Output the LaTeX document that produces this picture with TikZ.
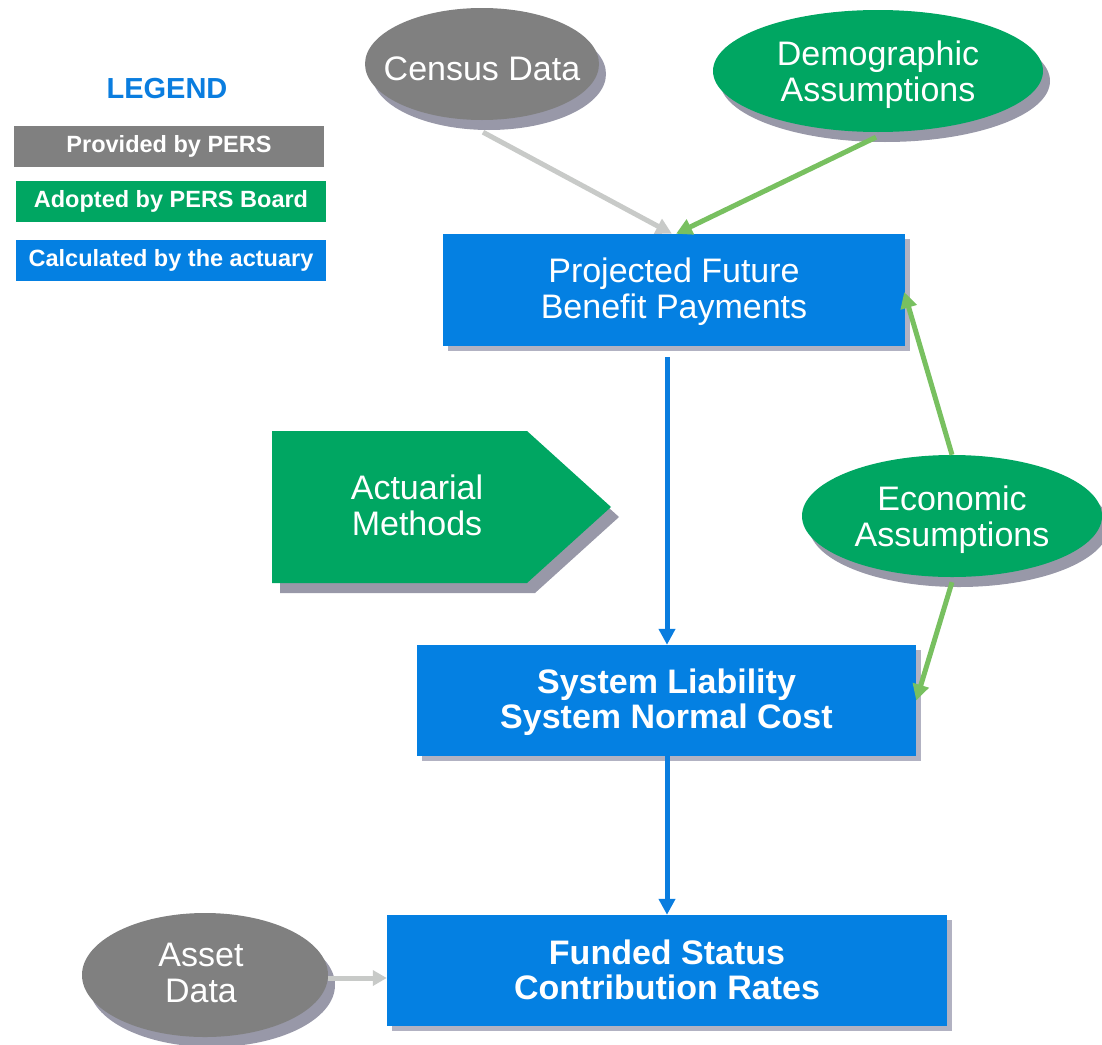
\documentclass[tikz,border=0pt]{standalone}
\usepackage{fontspec}
\setmainfont{Liberation Sans}
\usetikzlibrary{shapes.geometric,shadows,arrows.meta,calc}

\definecolor{pblue}{RGB}{4,128,226}
\definecolor{pgreen}{RGB}{0,166,98}
\definecolor{pgray}{RGB}{128,128,128}
\definecolor{boxshade}{RGB}{178,178,194}
\definecolor{ovalshade}{RGB}{152,152,168}
\definecolor{lgray}{RGB}{200,202,200}
\definecolor{lgreen}{RGB}{120,192,96}
\definecolor{lblue}{RGB}{10,125,223}

\begin{document}
\begin{tikzpicture}[x=1pt,y=-1pt,
  bigtxt/.style={text=white,align=center,font=\fontsize{34}{36}\selectfont},
  boldtxt/.style={text=white,align=center,font=\bfseries\fontsize{34}{35}\selectfont},
  calcbox/.style={rectangle,fill=pblue,inner sep=0pt,
    drop shadow={shadow xshift=5pt,shadow yshift=-5pt,fill=boxshade,opacity=1}},
  oval/.style={ellipse,inner sep=0pt,
    drop shadow={shadow xshift=7pt,shadow yshift=-10pt,fill=ovalshade,opacity=1}},
  keybox/.style={rectangle,inner sep=0pt,minimum width=310pt,minimum height=41pt,
    text=white,font=\bfseries\fontsize{23.5}{26}\selectfont},
  flow/.style={line width=5pt,-{Triangle[length=16pt,width=16pt]}},
  smallflow/.style={line width=5pt,-{Triangle[length=14pt,width=15pt]}}
]
\useasboundingbox (0,0) rectangle (1102,1044);

% legend
\node[text=lblue,font=\bfseries\fontsize{29}{31}\selectfont] (legend) at (167,89) {LEGEND};
\node[keybox,fill=pgray]  (keygray)  at (169,146) {Provided by PERS};
\node[keybox,fill=pgreen] (keygreen) at (171,201) {Adopted by PERS Board};
\node[keybox,fill=pblue]  (keyblue)  at (171,260) {Calculated by the actuary};

% inputs: oval shapes, with their captions set on top
\node[oval,fill=pgray,minimum width=234pt,minimum height=112pt] (census) at (482,64) {};
\node[bigtxt] (censustext) at (482,69) {Census Data};
\node[oval,fill=pgreen,minimum width=330pt,minimum height=122pt] (demo) at (878,71) {};
\node[bigtxt] (demotext) at (878,75) {Demographic\\Assumptions};
\node[oval,fill=pgreen,minimum width=300pt,minimum height=122pt] (econ) at (952,516) {};
\node[bigtxt] (econtext) at (952,520) {Economic\\Assumptions};
\node[oval,fill=pgray,minimum width=246pt,minimum height=124pt] (asset) at (205,975) {};
\node[bigtxt] (assettext) at (201,973) {Asset\\Data};

% actuarial methods arrow shape
\path[fill=pgreen,drop shadow={shadow xshift=8pt,shadow yshift=-10pt,fill=ovalshade,opacity=1}]
  (272,431) -- (527,431) -- (611,507) -- (527,583) -- (272,583) -- cycle;
\node[bigtxt] (methods) at (417,505) {Actuarial\\Methods};

% calculated results
\node[calcbox,minimum width=462pt,minimum height=112pt] (proj) at (674,290) {};
\node[bigtxt] (projtext) at (674,292) {Projected Future\\Benefit Payments};
\node[calcbox,minimum width=499pt,minimum height=111pt] (system) at (666.5,700.5) {};
\node[boldtxt] (systemtext) at (666.5,702) {System Liability\\System Normal Cost};
\node[calcbox,minimum width=560pt,minimum height=111pt] (funded) at (667,970.5) {};
\node[boldtxt] (fundedtext) at (667,969.5) {Funded Status\\Contribution Rates};

% connectors
\draw[flow,lgray]  ($(census.south)+(1,12)$) -- ($(proj.north)+(-2,0)$);
\draw[flow,lgreen] ($(demo.south)+(-2,5)$) -- ($(proj.north)+(2,0)$);
\draw[flow,lgreen] (econ.north) -- ($(proj.east)+(-1,2)$);
\draw[flow,lgreen] ($(econ.south)+(0,5)$) -- (system.east);
\draw[flow,lblue]  ($(proj.south)+(-7,11)$) -- ($(system.north)+(0.5,0)$);
\draw[flow,lblue]  ($(system.south)+(0.5,0)$) -- (funded.north);
\draw[smallflow,lgray] ($(asset.east)+(0,3)$) -- ($(funded.west)+(0,7.5)$);
\end{tikzpicture}
\end{document}
